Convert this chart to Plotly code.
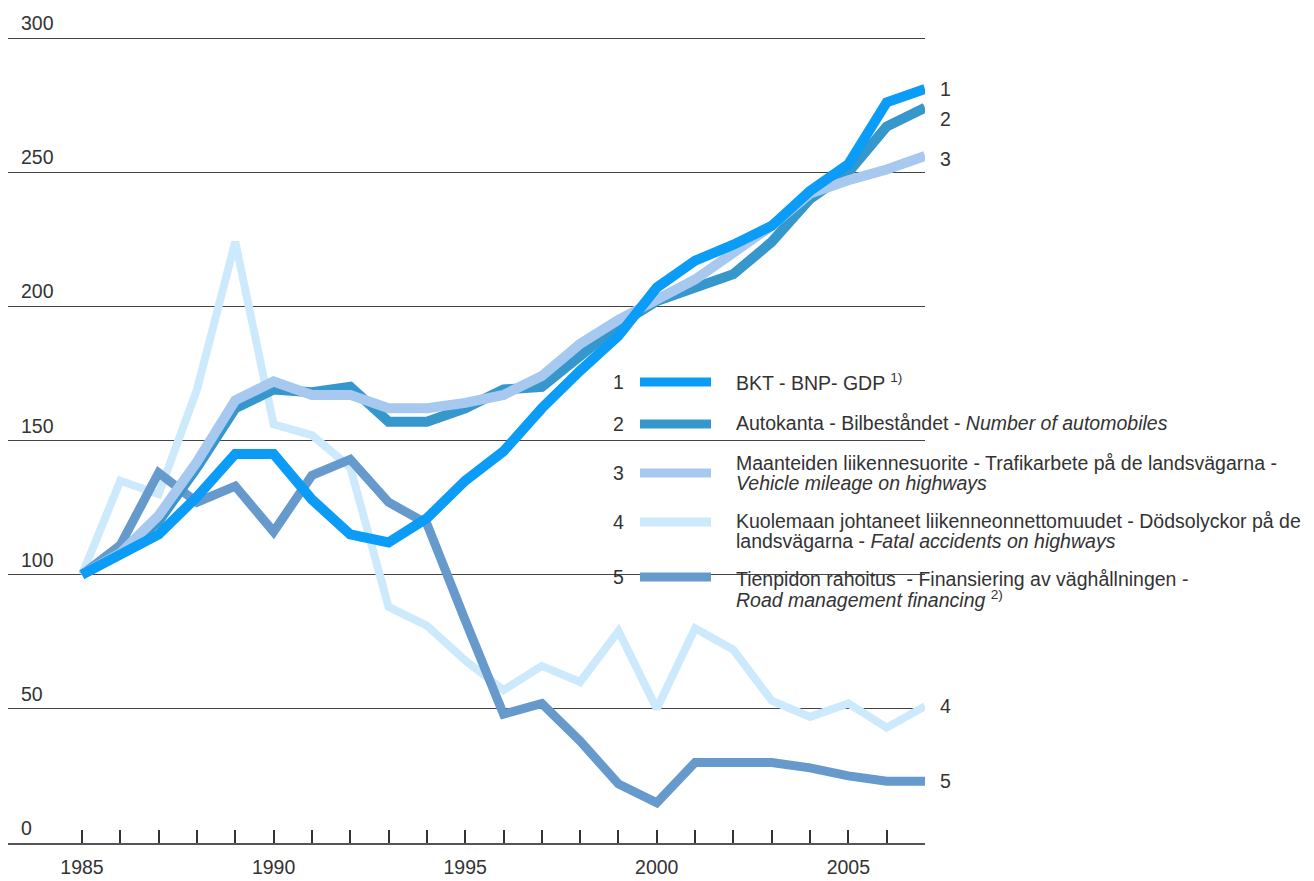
import plotly.graph_objects as go

years = list(range(1985, 2008))

gdp = [100, 107, 115, 129, 145, 145, 128, 115, 112, 121, 135, 146, 162, 176, 189, 207, 217, 223, 230, 243, 253, 276, 281]
automobiles = [100, 108, 120, 140, 162, 169, 168, 170, 157, 157, 162, 169, 170, 182, 193, 202, 207, 212, 224, 240, 250, 267, 274]
mileage = [100, 108, 122, 142, 165, 172, 167, 167, 162, 162, 164, 167, 174, 186, 195, 203, 210, 220, 230, 242, 247, 251, 256]
fatal = [100, 135, 130, 169, 224, 156, 152, 140, 88, 81, 68, 57, 66, 60, 79, 50, 80, 72, 53, 47, 52, 43, 51]
financing = [100, 111, 138, 127, 133, 116, 137, 143, 127, 119, 83, 48, 52, 38, 22, 15, 30, 30, 30, 28, 25, 23, 23]

series_ids = ["1", "2", "3", "4", "5"]
series_values = [gdp, automobiles, mileage, fatal, financing]
series_colors = ["#0a9cf7", "#3597cb", "#a7c8ef", "#cdeafc", "#6699cc"]
series_widths = [10, 10, 10, 8, 9]
end_label_yshift = [0, -11, -3, 0, 0]

legend_lines = [
    ["BKT - BNP- GDP <sup>1)</sup>"],
    ["Autokanta - Bilbeståndet - <i>Number of automobiles</i>"],
    ["Maanteiden liikennesuorite - Trafikarbete på de landsvägarna -",
     "<i>Vehicle mileage on highways</i>"],
    ["Kuolemaan johtaneet liikenneonnettomuudet - Dödsolyckor på de",
     "landsvägarna - <i>Fatal accidents on highways</i>"],
    ["Tienpidon rahoitus  - Finansiering av väghållningen -",
     "<i>Road management financing</i> <sup>2)</sup>"],
]

y_ticks = [0, 50, 100, 150, 200, 250, 300]
x_tick_labels = {1985: "1985", 1990: "1990", 1995: "1995", 2000: "2000", 2005: "2005"}

# ---- layout geometry (screen pixels; page body has an 8px margin) ----
W, H = 1314, 881
OFF = 8
S_LEFT, S_RIGHT, S_Y300, S_Y0 = 8, 925, 38, 843
S_X1985 = 82
EXTRA_TOP = 6
unit = (S_Y0 - S_Y300) / 300.0
PL = S_LEFT - OFF
PR = S_RIGHT - OFF
PB = S_Y0 - OFF
PT = S_Y300 - OFF - EXTRA_TOP
y_top = 300 + EXTRA_TOP / unit
yr_px = (S_RIGHT - S_X1985) / 22.0
x_left = 1985 - (S_X1985 - S_LEFT) / yr_px

FONT = "Liberation Sans, Arial, sans-serif"
TXT = "#333333"
FS = 19.5


def px_x(sx):
    return (sx - OFF - PL) / (PR - PL)


def px_y(sy):
    return (PB - (sy - OFF)) / (PB - PT)


fig = go.Figure()
order = [3, 4, 1, 2, 0]
for i in order:
    fig.add_trace(go.Scatter(
        x=years, y=series_values[i], mode="lines",
        line=dict(color=series_colors[i], width=series_widths[i]),
        showlegend=False, hoverinfo="skip", cliponaxis=False,
    ))

annotations = []
for v in y_ticks:
    annotations.append(dict(
        x=px_x(19), xref="paper", xanchor="left",
        y=v, yref="y", yanchor="bottom", yshift=2,
        text=str(v), showarrow=False,
        font=dict(family=FONT, size=FS, color=TXT),
    ))
for i, vals in enumerate(series_values):
    annotations.append(dict(
        x=years[-1], xref="x", xanchor="left", xshift=13,
        y=vals[-1], yref="y", yanchor="middle", yshift=end_label_yshift[i],
        text=series_ids[i], showarrow=False,
        font=dict(family=FONT, size=FS, color=TXT),
    ))

legend_row_y = [382, 424, 473, 522, 577]
legend_text_first_y = [382, 423, 463, 521, 579]
line_gap = 20
shapes = [dict(
    type="rect", xref="paper", yref="paper",
    x0=px_x(592), x1=px_x(935), y0=px_y(616), y1=px_y(352),
    fillcolor="white", line=dict(width=0), layer="between",
)]
for i in range(5):
    ry = legend_row_y[i]
    annotations.append(dict(
        x=px_x(618), xref="paper", xanchor="center",
        y=px_y(ry), yref="paper", yanchor="middle",
        text=series_ids[i], showarrow=False,
        font=dict(family=FONT, size=FS, color=TXT),
    ))
    shapes.append(dict(
        type="line", xref="paper", yref="paper",
        x0=px_x(640), x1=px_x(711), y0=px_y(ry), y1=px_y(ry),
        line=dict(color=series_colors[i], width=9), layer="above",
    ))
    for j, t in enumerate(legend_lines[i]):
        annotations.append(dict(
            x=px_x(734), xref="paper", xanchor="left",
            y=px_y(legend_text_first_y[i] + j * line_gap), yref="paper", yanchor="middle",
            text=t, showarrow=False,
            font=dict(family=FONT, size=FS, color=TXT),
        ))

fig.update_layout(
    width=W, height=H,
    margin=dict(l=PL, r=W - PR, t=PT, b=H - PB, pad=0),
    paper_bgcolor="white", plot_bgcolor="white",
    showlegend=False,
    annotations=annotations,
    shapes=shapes,
    xaxis=dict(
        range=[x_left, 2007],
        tickmode="array",
        tickvals=years,
        ticktext=[x_tick_labels.get(y, "") for y in years],
        ticks="inside", ticklen=13, tickwidth=1.5, tickcolor="#333333",
        showline=True, linecolor="#555555", linewidth=2,
        showgrid=False, zeroline=False,
        tickfont=dict(family=FONT, size=FS, color=TXT),
        ticklabelstandoff=6,
    ),
    yaxis=dict(
        range=[0, y_top],
        tickmode="array", tickvals=y_ticks,
        showticklabels=False,
        showgrid=True, gridcolor="#444444", gridwidth=1.3,
        zeroline=False, showline=False,
    ),
)

fig.write_html("out.html")
